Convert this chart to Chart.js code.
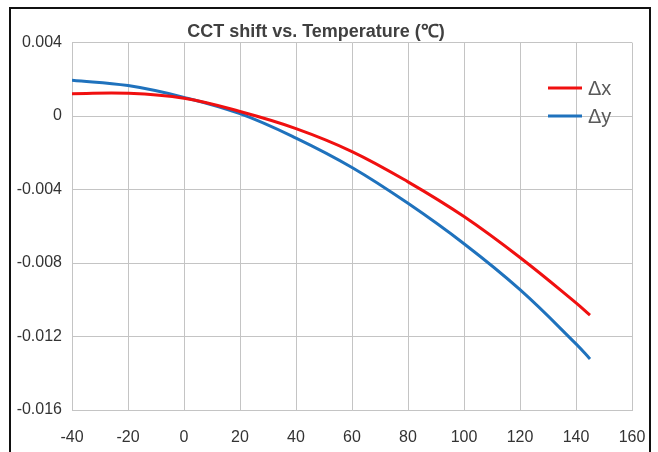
<!DOCTYPE html>
<html>
<head>
<meta charset="utf-8">
<script src="https://cdn.jsdelivr.net/npm/chart.js@4/dist/chart.umd.min.js"></script>
<style>
  html, body { margin: 0; padding: 0; background: #fff; }
  #wrap { position: relative; width: 658px; height: 452px; overflow: hidden; }
  #frame {
    position: absolute; left: 9px; top: 7px; width: 638px; height: 470px;
    border: 2px solid #111; pointer-events: none;
  }
</style>
</head>
<body>
<div id="wrap">
  <canvas id="chart" width="658" height="452"></canvas>
  <div id="frame"></div>
</div>
<script>
// temperature (℃) and shift values
const temps = [-40, -20, 0, 20, 40, 60, 80, 100, 120, 140, 145];
const dx = [0.00122, 0.00124, 0.00097, 0.00025, -0.00068, -0.00193, -0.00358, -0.00547, -0.0077, -0.01017, -0.01084];
const dy = [0.00195, 0.00166, 0.00102, 0.00013, -0.0012, -0.0028, -0.00475, -0.00695, -0.00945, -0.0124, -0.01322];
const xTicks = [-40, -20, 0, 20, 40, 60, 80, 100, 120, 140, 160];
const yTicks = [0.004, 0, -0.004, -0.008, -0.012, -0.016];

const FONT = "'Liberation Sans', Arial, sans-serif";

// legend drawn inside the plot, top right
const insideLegend = {
  id: 'insideLegend',
  afterDraw(chart) {
    const ctx = chart.ctx;
    ctx.save();
    chart.data.datasets.forEach((ds, i) => {
      const y = 88 + i * 28;
      ctx.strokeStyle = ds.borderColor;
      ctx.lineWidth = 3;
      ctx.beginPath();
      ctx.moveTo(548, y);
      ctx.lineTo(582, y);
      ctx.stroke();
      ctx.fillStyle = '#595959';
      ctx.font = "20px " + FONT;
      ctx.textBaseline = 'middle';
      ctx.fillText(ds.label, 588, y + 1);
    });
    ctx.restore();
  }
};

const toPoints = arr => arr.map((v, i) => ({ x: temps[i], y: v }));

new Chart(document.getElementById('chart'), {
  type: 'line',
  data: {
    datasets: [
      { label: 'Δx', data: toPoints(dx), borderColor: '#f01010', borderWidth: 3, pointRadius: 0, tension: 0.4 },
      { label: 'Δy', data: toPoints(dy), borderColor: '#1f72bd', borderWidth: 3, pointRadius: 0, tension: 0.4 }
    ]
  },
  options: {
    responsive: false,
    animation: false,
    layout: { padding: { top: 0, right: 26, left: 0, bottom: 0 } },
    plugins: {
      legend: { display: false },
      tooltip: { enabled: false },
      title: {
        display: true,
        text: 'CCT shift vs. Temperature (℃)',
        color: '#404040',
        font: { family: FONT, size: 18, weight: 'bold' },
        padding: { top: 21, bottom: 0 },
        align: 'center'
      }
    },
    scales: {
      x: {
        type: 'linear',
        min: -40, max: 160,
        afterBuildTicks: s => { s.ticks = xTicks.map(v => ({ value: v })); },
        afterFit: s => { s.height = 42; s.paddingLeft = 0; s.paddingRight = 0; },
        grid: { color: '#c4c4c4', drawTicks: false },
        border: { color: '#c4c4c4' },
        ticks: { color: '#333', padding: 18, font: { family: FONT, size: 16 }, maxRotation: 0 }
      },
      y: {
        min: -0.016, max: 0.004,
        afterBuildTicks: s => { s.ticks = yTicks.map(v => ({ value: v })); },
        afterFit: s => { s.width = 72; },
        grid: { color: '#c4c4c4', drawTicks: false },
        border: { color: '#c4c4c4' },
        ticks: {
          color: '#333', padding: 10, font: { family: FONT, size: 16 },
          callback: v => String(+v.toFixed(3))
        }
      }
    }
  },
  plugins: [insideLegend]
});
</script>
</body>
</html>
